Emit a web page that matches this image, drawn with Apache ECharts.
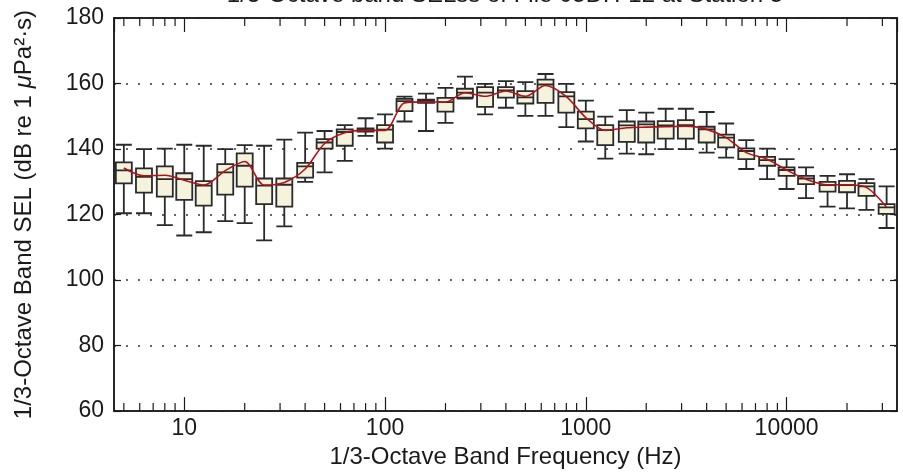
<!DOCTYPE html>
<html>
<head>
<meta charset="utf-8">
<script src="https://cdn.jsdelivr.net/npm/echarts@6/dist/echarts.min.js"></script>
<style>
  html, body { margin: 0; padding: 0; background: #fff; }
  #chart { width: 903px; height: 474px; }
</style>
</head>
<body>
<div id="chart"></div>
<script>
// 1/3-octave band centre frequencies (Hz)
const freqs = [5, 6.3, 8, 10, 12.5, 16, 20, 25, 31.5, 40, 50, 63, 80, 100, 125, 160, 200, 250, 315, 400,
  500, 630, 800, 1000, 1250, 1600, 2000, 2500, 3150, 4000, 5000, 6300, 8000, 10000, 12500, 16000, 20000, 25000, 31500];

// box statistics per band (dB)
const whiskerLow = [120.4, 120.4, 116.8, 113.6, 114.6, 118, 117.4, 112.1, 116.4, 130, 132.9, 136.4, 144, 140.1, 148.4, 145.5, 148, 155.4, 150.6, 152.6,
  150.1, 150.1, 146.7, 142.3, 137.1, 138.6, 138.4, 140, 140, 138.9, 137.4, 133.9, 130.8, 127.8, 125, 122.4, 121.9, 121.4, 115.9];
const q1 = [129.5, 126.7, 125.5, 124.5, 122.7, 126.1, 128.5, 123.2, 122.4, 131.3, 140.1, 141, 145.3, 142, 151.6, 154.1, 151.4, 155.7, 152.9, 155.7,
  153.9, 154.1, 151.1, 146.3, 141.2, 142.2, 142, 143.2, 143.2, 142, 140.5, 136.9, 134.9, 131.8, 129.3, 127, 126.8, 125.7, 120.2];
const median = [133.5, 131.5, 130.8, 130.8, 128.8, 132.9, 134.9, 128.8, 129.1, 134.7, 142, 145.2, 145.9, 145.9, 154.6, 154.6, 154.3, 157.2, 157.2, 157.9,
  155.8, 159.7, 156.1, 149.1, 145.8, 147.2, 147.5, 147.2, 147.3, 146, 143.5, 139.4, 136.6, 133.6, 131, 129, 129, 128.6, 122.2];
const q3 = [135.9, 134.1, 134.7, 132.6, 130.2, 135.4, 138.7, 131, 131, 135.8, 143, 146, 146.3, 147.3, 155.3, 155.1, 155.6, 158.4, 158.9, 158.9,
  157.7, 161.2, 157.4, 151.4, 147.3, 148.4, 148.4, 148.5, 148.8, 146.8, 144.4, 140.2, 137.6, 134.4, 131.8, 130, 130.3, 129.6, 123.2];
const whiskerHigh = [141.3, 140, 140.1, 141.3, 141, 140, 141.2, 141, 142.9, 145, 145.5, 147.3, 149.4, 150.6, 156, 156.9, 158.7, 162.1, 159.9, 160.7,
  160.4, 162.9, 159.9, 154.8, 149.9, 151.9, 151.1, 152.3, 152.3, 151.3, 147.8, 142.7, 140.1, 136.9, 134.4, 131.8, 132.3, 130.8, 128.6];
// mean level per band (red line)
const meanLevel = [134.2, 131.8, 132, 130.5, 129, 133.4, 136.2, 129, 129.8, 133.9, 141.7, 145, 145.7, 145.7, 154.1, 154.4, 154.3, 157.2, 156.1, 157.7,
  156.1, 159.4, 156, 149.6, 145.7, 146.5, 146.7, 146.8, 147, 146, 143.5, 138.9, 136.9, 133.6, 130.8, 129.1, 129.1, 128.3, 122.2];

const yTicks = [60, 80, 100, 120, 140, 160, 180];

// axis spans the band edges of the first and last band
const xMin = Math.pow(10, 0.65);
const xMax = Math.pow(10, 4.55);

// minor log ticks 2..9 x 10^k
const minorTicks = [];
for (let k = 0; k <= 4; k++) {
  for (let m = 2; m <= 9; m++) {
    const v = m * Math.pow(10, k);
    if (v > xMin && v < xMax) minorTicks.push(v);
  }
}

const boxData = freqs.map((f, i) => [f, whiskerLow[i], q1[i], median[i], q3[i], whiskerHigh[i]]);
const meanData = freqs.map((f, i) => [f, meanLevel[i]]);

const FONT = "'Liberation Sans', Arial, Helvetica, sans-serif";
const INK = "#1a1a1a";
const LABEL_SIZE = 23;
const NAME_SIZE = 24;

const chart = echarts.init(document.getElementById("chart"), null, { renderer: "canvas" });

const isDecade = (v) => Math.abs(Math.log10(v) - Math.round(Math.log10(v))) < 1e-6;

const option = {
  animation: false,
  backgroundColor: "#fff",
  grid: {
    left: 114,
    right: 6,
    top: 18,
    bottom: 61,
    show: true,
    borderColor: INK,
    borderWidth: 1.5,
    backgroundColor: "transparent"
  },
  graphic: [
    {
      type: "text",
      x: 505,
      y: 7,
      style: {
        text: "1/3-Octave band SELss of File 05DH-12 at Station 5",
        font: NAME_SIZE + "px " + FONT,
        fill: INK,
        align: "center",
        verticalAlign: "bottom"
      }
    }
  ],
  xAxis: [
    {
      type: "log",
      logBase: 10,
      min: xMin,
      max: xMax,
      name: "1/3-Octave Band Frequency (Hz)",
      nameLocation: "middle",
      nameGap: 33,
      nameTextStyle: { fontSize: NAME_SIZE, fontFamily: FONT, color: INK },
      axisLine: { show: true, lineStyle: { color: INK, width: 1.5 } },
      axisTick: { inside: true, length: 14, lineStyle: { color: INK, width: 1.2 } },
      axisLabel: {
        fontSize: LABEL_SIZE,
        fontFamily: FONT,
        color: INK,
        margin: 6,
        showMinLabel: false,
        showMaxLabel: false,
        formatter: (v) => (isDecade(v) ? String(Math.round(v)) : "")
      },
      splitLine: { show: false },
      minorTick: { show: false }
    },
    {
      type: "log",
      logBase: 10,
      position: "top",
      min: xMin,
      max: xMax,
      axisLine: { show: true, lineStyle: { color: INK, width: 1.5 } },
      axisTick: { inside: true, length: 14, lineStyle: { color: INK, width: 1.2 } },
      axisLabel: { show: false },
      splitLine: { show: false }
    }
  ],
  yAxis: [
    {
      type: "value",
      min: yTicks[0],
      max: yTicks[yTicks.length - 1],
      interval: 20,
      name: "1/3-Octave Band SEL (dB re 1 {i|\u03bc}Pa\u00b2\u00b7s)",
      nameLocation: "middle",
      nameGap: 78,
      nameTextStyle: {
        fontSize: NAME_SIZE,
        fontFamily: FONT,
        color: INK,
        rich: { i: { fontSize: NAME_SIZE, fontFamily: FONT, fontStyle: "italic", color: INK } }
      },
      axisLine: { show: true, lineStyle: { color: INK, width: 1.5 } },
      axisTick: { inside: true, length: 7, lineStyle: { color: INK, width: 1.2 } },
      axisLabel: { fontSize: LABEL_SIZE, fontFamily: FONT, color: INK, margin: 10 },
      splitLine: { show: true, lineStyle: { color: "#333", width: 1.5, type: [2, 10] } }
    },
    {
      type: "value",
      position: "right",
      min: yTicks[0],
      max: yTicks[yTicks.length - 1],
      interval: 20,
      axisLine: { show: true, lineStyle: { color: INK, width: 1.5 } },
      axisTick: { inside: true, length: 7, lineStyle: { color: INK, width: 1.2 } },
      axisLabel: { show: false },
      splitLine: { show: false }
    }
  ],
  series: [
    {
      type: "custom",
      name: "minorTicks",
      xAxisIndex: 0,
      yAxisIndex: 0,
      silent: true,
      clip: false,
      data: minorTicks.map((v) => [v, 60]),
      renderItem: (params, api) => {
        const x = api.coord([api.value(0), 60])[0];
        const cs = params.coordSys;
        const st = { stroke: INK, lineWidth: 1.2 };
        return {
          type: "group",
          children: [
            { type: "line", shape: { x1: x, y1: cs.y + cs.height, x2: x, y2: cs.y + cs.height - 8 }, style: st },
            { type: "line", shape: { x1: x, y1: cs.y, x2: x, y2: cs.y + 8 }, style: st }
          ]
        };
      }
    },
    {
      type: "boxplot",
      name: "SEL",
      xAxisIndex: 0,
      yAxisIndex: 0,
      boxWidth: [16, 16],
      itemStyle: { color: "#f5f3dc", borderColor: "#2a2a2a", borderWidth: 1.8 },
      data: boxData,
      z: 3
    },
    {
      type: "line",
      name: "mean",
      xAxisIndex: 0,
      yAxisIndex: 0,
      data: meanData,
      smooth: 0.3,
      showSymbol: false,
      symbol: "none",
      lineStyle: { color: "#b3121b", width: 1.6 },
      z: 4
    }
  ]
};

chart.setOption(option);
</script>
</body>
</html>
